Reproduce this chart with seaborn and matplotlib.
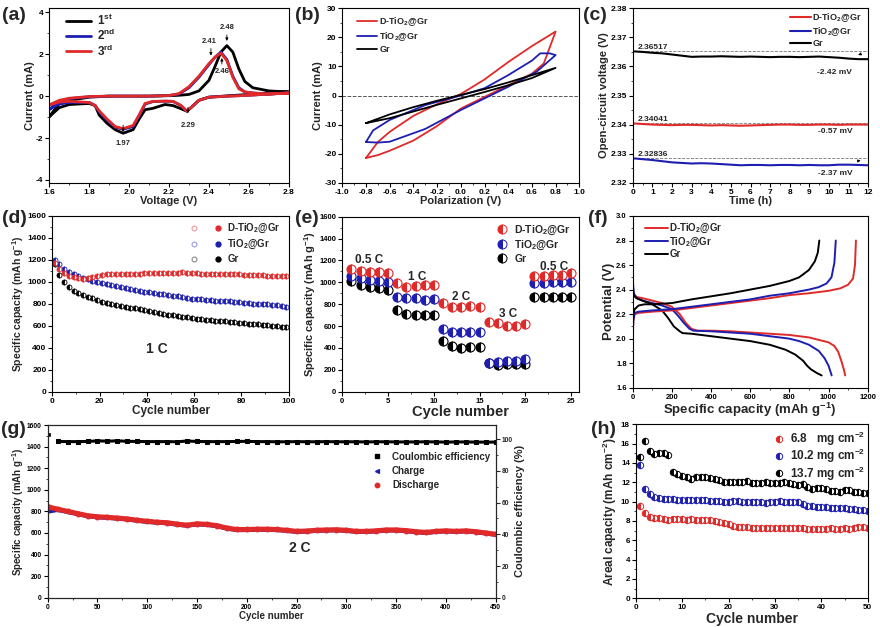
import matplotlib
matplotlib.use('Agg')
import matplotlib.pyplot as plt
import seaborn as sns
from matplotlib.ticker import MultipleLocator, AutoMinorLocator, FormatStrFormatter
from matplotlib.lines import Line2D
from matplotlib.legend_handler import HandlerTuple

RED = '#e02a2a'
BLUE = '#1e1eb0'
BLACK = '#000000'

# ---- (a) CV curves, 1st / 2nd / 3rd cycle
a_volt_anodic = [1.6, 1.65, 1.7, 1.8, 1.9, 2.0, 2.1, 2.2, 2.25, 2.3, 2.35, 2.4, 2.43, 2.46, 2.49,
                 2.52, 2.55, 2.58, 2.62, 2.7, 2.8]
a_volt_cathodic = [2.8, 2.7, 2.6, 2.5, 2.4, 2.35, 2.31, 2.29, 2.26, 2.22, 2.18, 2.12, 2.08, 2.05,
                   2.02, 1.97, 1.93, 1.89, 1.85, 1.83, 1.8, 1.7, 1.65, 1.6]
a_1st_anodic = [-0.98, -0.35, -0.2, -0.05, 0, 0, 0, 0.02, 0.04, 0.08, 0.25, 0.75, 1.4, 2.1, 2.41,
                2.1, 1.3, 0.7, 0.4, 0.25, 0.2]
a_2nd_anodic = [-0.63, -0.25, -0.12, -0.03, 0, 0, 0, 0.03, 0.1, 0.4, 0.9, 1.5, 1.85, 2.1, 1.75,
                0.95, 0.4, 0.2, 0.15, 0.1, 0.15]
a_3rd_anodic = [-0.42, -0.2, -0.1, -0.02, 0, 0, 0, 0.03, 0.12, 0.45, 0.95, 1.55, 1.85, 2.05, 1.7,
                0.9, 0.35, 0.2, 0.15, 0.1, 0.15]
a_1st_cathodic = [0.2, 0.15, 0.08, 0.02, -0.05, -0.2, -0.55, -0.72, -0.6, -0.45, -0.4, -0.58, -0.65,
                  -1.1, -1.6, -1.77, -1.6, -1.3, -0.9, -0.45, -0.35, -0.4, -0.55, -0.98]
a_2nd_cathodic = [0.15, 0.1, 0.04, 0.0, -0.05, -0.2, -0.55, -0.72, -0.45, -0.25, -0.24, -0.26, -0.38,
                  -0.95, -1.45, -1.58, -1.48, -1.15, -0.75, -0.45, -0.3, -0.3, -0.38, -0.63]
a_3rd_cathodic = [0.15, 0.1, 0.04, 0.0, -0.05, -0.2, -0.55, -0.72, -0.45, -0.25, -0.24, -0.25, -0.35,
                  -0.9, -1.4, -1.55, -1.45, -1.1, -0.7, -0.45, -0.3, -0.25, -0.28, -0.42]
a_peaks = ['2.48', '2.41', '2.46', '1.97', '2.29']

# ---- (b) symmetric cell CV loops
b_red_volt = [-0.8, -0.7, -0.6, -0.4, -0.2, 0.0, 0.2, 0.4, 0.6, 0.7, 0.8,
              0.7, 0.6, 0.4, 0.2, 0.0, -0.2, -0.4, -0.6, -0.7, -0.8]
b_red_cur = [-21.5, -20.5, -19.0, -15.5, -10.5, -4.5, -0.5, 3.5, 7.5, 11.0, 22.0,
             19.5, 17.0, 11.5, 5.5, 0.5, -3.0, -7.0, -12.5, -16.0, -21.5]
b_blue_volt = [-0.8, -0.7, -0.6, -0.3, 0.0, 0.2, 0.4, 0.64, 0.8,
               0.75, 0.67, 0.6, 0.4, 0.2, 0.0, -0.3, -0.6, -0.74, -0.8]
b_blue_cur = [-16.0, -16.2, -15.9, -11.5, -5.0, -1.0, 3.0, 8.2, 13.9,
              14.5, 14.5, 12.0, 7.0, 2.5, 0.0, -3.3, -8.4, -12.0, -16.0]
b_black_volt = [-0.8, -0.6, -0.4, -0.2, 0.0, 0.2, 0.4, 0.6, 0.8,
                0.6, 0.4, 0.2, 0.0, -0.2, -0.4, -0.6, -0.8]
b_black_cur = [-9.5, -7.8, -5.5, -3.2, -1.0, 1.2, 3.5, 6.0, 9.5,
               7.0, 4.5, 2.2, 0.2, -1.8, -4.0, -6.5, -9.5]

# ---- (c) open-circuit voltage
c_time = [0, 0.5, 1, 1.5, 2, 2.5, 3, 3.5, 4, 4.5, 5, 5.5, 6, 6.5, 7, 7.5, 8, 8.5, 9, 9.5, 10,
          10.5, 11, 11.5, 12]
c_gr = [2.3652, 2.3650, 2.3647, 2.3645, 2.3641, 2.3637, 2.3633, 2.3634, 2.3634, 2.3635, 2.3634,
        2.3633, 2.3634, 2.3633, 2.3632, 2.3633, 2.3633, 2.3632, 2.3633, 2.3634, 2.3632, 2.3630,
        2.3627, 2.3625, 2.3625]
c_dtio2 = [2.3404, 2.3402, 2.3400, 2.3399, 2.3398, 2.3399, 2.3399, 2.3398, 2.3397, 2.3398, 2.3397,
           2.3396, 2.3397, 2.3398, 2.3399, 2.3400, 2.3400, 2.3399, 2.3399, 2.3400, 2.3400, 2.3399,
           2.3400, 2.3400, 2.3400]
c_tio2 = [2.3284, 2.3281, 2.3278, 2.3274, 2.3270, 2.3268, 2.3266, 2.3267, 2.3266, 2.3264, 2.3262,
          2.3260, 2.3261, 2.3261, 2.3260, 2.3261, 2.3261, 2.3260, 2.3261, 2.3260, 2.3260, 2.3262,
          2.3262, 2.3261, 2.3260]
c_start = [2.36517, 2.34041, 2.32836]
c_start_labels = ['2.36517', '2.34041', '2.32836']
c_drop_labels = ['-2.42 mV', '-0.57 mV', '-2.37 mV']

# ---- (d) cycling at 1 C
d_cycle = list(range(1, 100, 2))
d_dtio2 = [1170, 1120, 1080, 1055, 1045, 1035, 1030, 1035, 1045, 1055, 1062, 1068, 1072, 1075, 1075,
           1070, 1068, 1072, 1075, 1078, 1078, 1080, 1080, 1082, 1082, 1083, 1085, 1088, 1082, 1080,
           1078, 1075, 1075, 1072, 1072, 1070, 1070, 1070, 1068, 1068, 1066, 1065, 1064, 1062, 1060,
           1058, 1056, 1055, 1053, 1050]
d_tio2 = [1200, 1160, 1120, 1090, 1070, 1050, 1035, 1025, 1010, 1000, 990, 980, 972, 962, 952,
          945, 935, 928, 918, 910, 905, 898, 892, 888, 880, 875, 868, 862, 855, 848,
          842, 840, 836, 834, 830, 828, 825, 822, 818, 815, 810, 806, 803, 800, 798,
          795, 790, 785, 780, 772]
d_gr = [1160, 1060, 1000, 950, 920, 900, 880, 865, 850, 835, 820, 808, 798, 790, 782,
        772, 765, 758, 750, 742, 735, 725, 718, 710, 702, 695, 690, 684, 678, 672,
        666, 662, 656, 652, 648, 644, 640, 636, 632, 628, 624, 620, 616, 612, 608,
        604, 600, 596, 592, 588]

# ---- (e) rate performance
e_cycle = list(range(1, 26))
e_dtio2 = [1120, 1100, 1090, 1090, 1085, 990, 960, 970, 975, 975, 810, 770, 775, 780, 770,
           640, 630, 600, 605, 615, 1060, 1060, 1065, 1070, 1085]
e_tio2 = [1060, 1040, 1020, 1010, 1005, 870, 860, 855, 840, 850, 570, 550, 550, 550, 550,
          265, 270, 280, 285, 295, 995, 995, 1000, 1000, 1000]
e_gr = [1010, 975, 960, 945, 930, 750, 710, 700, 700, 705, 460, 415, 400, 410, 405,
        260, 245, 250, 255, 255, 865, 865, 865, 865, 865]
e_rates = ['0.5 C', '1 C', '2 C', '3 C', '0.5 C']

# ---- (f) charge / discharge profiles
f_dtio2_dis_cap = [0, 5, 20, 50, 100, 150, 200, 240, 270, 300, 330, 400, 500, 600, 700, 800, 900,
                   950, 1000, 1030, 1050, 1065, 1078, 1085]
f_dtio2_dis_v = [2.42, 2.36, 2.34, 2.33, 2.31, 2.29, 2.26, 2.20, 2.13, 2.08, 2.065, 2.065, 2.06,
                 2.05, 2.04, 2.03, 2.01, 1.99, 1.97, 1.94, 1.89, 1.82, 1.75, 1.70]
f_tio2_dis_cap = [0, 5, 20, 50, 100, 150, 200, 230, 260, 290, 310, 400, 500, 600, 700, 800, 850,
                  900, 950, 980, 1000, 1016]
f_tio2_dis_v = [2.5, 2.37, 2.33, 2.31, 2.29, 2.27, 2.24, 2.19, 2.13, 2.08, 2.065, 2.06, 2.05, 2.04,
                2.02, 2.00, 1.98, 1.95, 1.90, 1.84, 1.78, 1.70]
f_gr_dis_cap = [0, 5, 20, 50, 100, 150, 180, 210, 240, 255, 300, 400, 500, 600, 700, 780, 830, 870,
                890, 910, 940, 965]
f_gr_dis_v = [2.45, 2.35, 2.33, 2.31, 2.28, 2.23, 2.17, 2.10, 2.06, 2.045, 2.04, 2.02, 2.00, 1.98,
              1.95, 1.91, 1.87, 1.82, 1.78, 1.75, 1.72, 1.70]
f_dtio2_ch_cap = [0, 3, 10, 30, 100, 200, 300, 400, 500, 600, 700, 800, 900, 1000, 1060, 1100,
                  1125, 1135, 1140]
f_dtio2_ch_v = [1.95, 2.15, 2.20, 2.21, 2.22, 2.23, 2.25, 2.27, 2.29, 2.31, 2.33, 2.355, 2.37, 2.39,
                2.41, 2.44, 2.49, 2.60, 2.80]
f_tio2_ch_cap = [0, 3, 10, 30, 100, 200, 300, 400, 500, 600, 700, 800, 900, 950, 990, 1015, 1030,
                 1037]
f_tio2_ch_v = [1.98, 2.15, 2.21, 2.22, 2.23, 2.24, 2.26, 2.28, 2.30, 2.32, 2.35, 2.37, 2.40, 2.42,
               2.45, 2.50, 2.62, 2.80]
f_gr_ch_cap = [0, 3, 10, 30, 60, 100, 200, 300, 400, 500, 600, 700, 800, 850, 900, 930, 945, 953]
f_gr_ch_v = [2.0, 2.2, 2.24, 2.27, 2.28, 2.28, 2.29, 2.32, 2.345, 2.37, 2.40, 2.43, 2.47, 2.50,
             2.56, 2.63, 2.70, 2.80]

# ---- (g) long cycling at 2 C
g_cycle = [1] + list(range(10, 451, 10))
g_discharge = [840, 820, 800, 780, 760, 750, 745, 738, 730, 718, 708, 700, 695, 682, 672, 685, 680,
               668, 645, 632, 632, 635, 635, 632, 625, 615, 618, 625, 628, 630, 625, 615, 615, 620,
               628, 628, 622, 612, 605, 615, 620, 615, 620, 612, 600, 588]
g_charge = [800, 815, 795, 776, 756, 746, 741, 734, 726, 714, 704, 696, 691, 678, 668, 681, 676,
            664, 641, 628, 628, 631, 631, 628, 621, 611, 614, 621, 624, 626, 621, 611, 611, 616,
            624, 624, 618, 608, 601, 611, 616, 611, 616, 608, 596, 584]
g_ce = [102.7, 98.6, 98.5, 98.5, 98.6, 99.0, 98.8, 99.0, 98.7, 98.6, 98.5, 98.5, 98.5, 98.4, 98.9,
        98.6, 98.5, 98.5, 98.5, 98.6, 98.7, 98.5, 98.5, 98.4, 98.4, 98.5, 98.4, 98.4, 98.5, 98.4,
        98.4, 98.4, 98.3, 98.4, 98.4, 98.3, 98.3, 98.3, 98.4, 98.3, 98.2, 98.3, 98.3, 98.2, 98.2,
        98.2]

# ---- (h) areal capacity at high loading
h_cycle = list(range(1, 51))
h_68 = [9.6, 8.8, 8.4, 8.3, 8.3, 8.2, 8.1, 8.2, 8.2, 8.2, 8.1, 8.2, 8.1, 8.1, 8.1, 8.1, 8.0, 7.9,
        7.8, 7.7, 7.5, 7.4, 7.4, 7.4, 7.3, 7.3, 7.3, 7.3, 7.3, 7.3, 7.3, 7.3, 7.3, 7.3, 7.3, 7.3,
        7.2, 7.2, 7.2, 7.2, 7.2, 7.3, 7.2, 7.2, 7.3, 7.2, 7.3, 7.4, 7.4, 7.3]
h_102 = [13.8, 11.3, 10.8, 10.5, 10.4, 10.3, 10.3, 10.3, 10.2, 10.2, 10.2, 10.2, 10.2, 10.2, 10.2,
         10.1, 10.1, 10.1, 10.0, 10.0, 10.1, 10.1, 10.0, 10.0, 10.0, 10.0, 10.0, 9.9, 10.0, 10.0,
         10.1, 10.0, 10.0, 10.0, 10.0, 9.8, 9.6, 9.5, 9.4, 9.4, 9.4, 9.3, 9.3, 9.3, 9.3, 9.2, 9.2,
         9.1, 9.1, 9.0]
h_137 = [14.6, 16.3, 15.2, 14.9, 15.0, 15.0, 14.8, 13.1, 12.9, 12.7, 12.5, 12.3, 12.5, 12.5, 12.5,
         12.4, 12.3, 12.2, 12.0, 12.0, 12.0, 12.0, 12.0, 12.1, 11.9, 11.9, 11.9, 12.0, 11.9, 11.9,
         11.9, 12.0, 11.9, 11.8, 11.7, 11.8, 11.5, 11.3, 11.4, 11.4, 11.3, 11.1, 11.1, 11.0, 11.2,
         11.2, 11.0, 11.0, 10.9, 10.9]
h_labels = ['6.8   mg cm$^{-2}$', '10.2 mg cm$^{-2}$', '13.7 mg cm$^{-2}$']

LAB_D = 'D-TiO$_2$@Gr'
LAB_T = 'TiO$_2$@Gr'
LAB_G = 'Gr'

sns.set_style('ticks')
plt.rcParams['font.family'] = ['Liberation Sans', 'DejaVu Sans']
plt.rcParams['font.weight'] = 'bold'
plt.rcParams['axes.labelweight'] = 'bold'
plt.rcParams['mathtext.fontset'] = 'custom'
plt.rcParams['mathtext.rm'] = 'Liberation Sans:bold'
plt.rcParams['mathtext.it'] = 'Liberation Sans:bold:italic'
plt.rcParams['mathtext.bf'] = 'Liberation Sans:bold'
plt.rcParams['mathtext.default'] = 'rm'
plt.rcParams['axes.unicode_minus'] = False

W, H = 880, 627
fig = plt.figure(figsize=(8.8, 6.27), dpi=100)


def rect(l, r, t, b):
    return [l / W, 1 - b / H, (r - l) / W, (b - t) / H]


def style(ax, xlim, ylim, xstep, ystep, xlabel, ylabel, xfs, yfs, tfs=6):
    ax.set_xlim(*xlim)
    ax.set_ylim(*ylim)
    ax.xaxis.set_major_locator(MultipleLocator(xstep))
    ax.yaxis.set_major_locator(MultipleLocator(ystep))
    ax.xaxis.set_minor_locator(AutoMinorLocator(2))
    ax.yaxis.set_minor_locator(AutoMinorLocator(2))
    ax.set_xlabel(xlabel, fontsize=xfs, labelpad=0.5)
    ax.set_ylabel(ylabel, fontsize=yfs, labelpad=1)
    for s in ax.spines.values():
        s.set_linewidth(0.8)
        s.set_color('black')
    ax.tick_params(which='major', direction='out', length=3, width=0.8, labelsize=tfs, pad=1.2,
                   top=False, right=False, colors='black')
    ax.tick_params(which='minor', direction='out', length=1.6, width=0.6, top=False, right=False)


def half_marker(col, ms):
    return Line2D([], [], ls='', marker='o', ms=ms, fillstyle='left', markerfacecolor=col,
                  markerfacecoloralt='white', markeredgecolor=col, markeredgewidth=0.7)


def panel_label(x, y, s):
    fig.text(x / W, 1 - y / H, s, fontsize=14, fontweight='bold', va='center', ha='left')


arr = dict(arrowstyle='-|>', color='black', lw=0.6, mutation_scale=4)

# ================= (a)
ax = fig.add_axes(rect(49.3, 288.7, 8.3, 182.7))
for an, ca, col, lab in [(a_1st_anodic, a_1st_cathodic, BLACK, '1$^{st}$'),
                         (a_2nd_anodic, a_2nd_cathodic, BLUE, '2$^{nd}$'),
                         (a_3rd_anodic, a_3rd_cathodic, RED, '3$^{rd}$')]:
    sns.lineplot(x=a_volt_anodic + a_volt_cathodic, y=an + ca, sort=False, estimator=None,
                 color=col, lw=2, ax=ax, label=lab)
style(ax, (1.6, 2.8), (-4.13, 4.19), 0.2, 2, 'Voltage (V)', 'Current (mA)', 8, 8)
ax.legend(loc='upper left', bbox_to_anchor=(0.03, 1.03), frameon=False, fontsize=8.5,
          handlelength=2.1, handletextpad=0.5, labelspacing=0.02, borderpad=0.3)
for (xt, yt, xa, y0, y1), s in zip([(2.49, 3.28, 2.49, 3.05, 2.5), (2.40, 2.6, 2.41, 2.4, 1.8),
                                    (2.465, 1.17, 2.465, 1.4, 1.95), (1.97, -2.25, 1.97, -1.25, -1.85),
                                    (2.295, -1.42, 2.295, -0.4, -0.95)], a_peaks):
    ax.annotate('', xy=(xa, y1), xytext=(xa, y0), arrowprops=arr)
    ax.text(xt, yt, s, ha='center', va='center', fontsize=5.5)
panel_label(2, 15, '(a)')

# ================= (b)
ax = fig.add_axes(rect(342.3, 579.3, 8.3, 182.7))
ax.axhline(0, color='#555555', ls='--', lw=0.7)
sns.lineplot(x=b_red_volt, y=b_red_cur, sort=False, estimator=None, color=RED, lw=1.3, ax=ax,
             label=LAB_D)
sns.lineplot(x=b_blue_volt, y=b_blue_cur, sort=False, estimator=None, color=BLUE, lw=1.3, ax=ax,
             label=LAB_T)
sns.lineplot(x=b_black_volt, y=b_black_cur, sort=False, estimator=None, color=BLACK, lw=1.3, ax=ax,
             label=LAB_G)
style(ax, (-1.0, 1.0), (-30, 30), 0.2, 10, 'Polarization (V)', 'Current (mA)', 8, 8)
ax.xaxis.set_major_formatter(FormatStrFormatter('%.1f'))
ax.legend(loc='upper left', bbox_to_anchor=(0.03, 1.0), frameon=False, fontsize=6.5,
          handlelength=2.3, handletextpad=0.2, labelspacing=0.2, borderpad=0.3)
panel_label(295, 15, '(b)')

# ================= (c)
ax = fig.add_axes(rect(632.7, 868.3, 8.3, 182.7))
for v in c_start:
    ax.axhline(v, color='#777777', ls='--', lw=0.6)
sns.lineplot(x=c_time, y=c_dtio2, color=RED, lw=1.5, ax=ax, label=LAB_D)
sns.lineplot(x=c_time, y=c_tio2, color=BLUE, lw=1.5, ax=ax, label=LAB_T)
sns.lineplot(x=c_time, y=c_gr, color=BLACK, lw=1.5, ax=ax, label=LAB_G)
style(ax, (0, 12), (2.32, 2.38), 1, 0.01, 'Time (h)', 'Open-circuit voltage (V)', 8, 8)
ax.yaxis.set_major_formatter(FormatStrFormatter('%.2f'))
ax.legend(loc='upper right', bbox_to_anchor=(1.0, 1.02), frameon=False, fontsize=6.5,
          handlelength=2.3, handletextpad=0.2, labelspacing=0.1, borderpad=0.2)
for v, sl, dl, ylab in zip(c_start, c_start_labels, c_drop_labels, [2.3578, 2.3375, 2.3232]):
    ax.text(0.25, v + 0.0012, sl, fontsize=6, va='center', ha='left')
    ax.text(10.3, ylab, dl, fontsize=6, va='center', ha='center')
ax.annotate('', xy=(11.35, 2.3636), xytext=(11.75, 2.3646), arrowprops=arr)
ax.annotate('', xy=(11.75, 2.3278), xytext=(11.4, 2.3274), arrowprops=arr)
panel_label(583, 15, '(c)')

# ================= (d)
ax = fig.add_axes(rect(52.3, 288.7, 216, 391.7))
for vals, col in [(d_gr, BLACK), (d_tio2, BLUE), (d_dtio2, RED)]:
    sns.lineplot(x=d_cycle, y=vals, ax=ax, ls='', marker='o', ms=3.6, fillstyle='left',
                 color=col, markerfacecoloralt='white', markeredgecolor=col,
                 markeredgewidth=0.6)
style(ax, (0, 100), (0, 1600), 20, 200, 'Cycle number', 'Specific capacity (mAh g$^{-1}$)', 8.5, 7.5)
ax.text(44, 390, '1 C', fontsize=10, ha='center', va='center')
hd = []
for col, light in [(RED, '#f09a9a'), (BLUE, '#9a9ae8'), (BLACK, '#888888')]:
    hd.append((Line2D([], [], ls='', marker='o', ms=3.5, mfc='none', mec=light, mew=0.8),
               Line2D([], [], ls='', marker='o', ms=3.5, mfc=col, mec=col)))
ax.legend(hd, [LAB_D, LAB_T, LAB_G], handler_map={tuple: HandlerTuple(ndivide=None, pad=1.6)},
          loc='upper right', bbox_to_anchor=(1.0, 1.01), frameon=False, fontsize=7,
          handlelength=3.2, handletextpad=0.6, labelspacing=0.3, borderpad=0.3)
panel_label(2, 219, '(d)')

# ================= (e)
ax = fig.add_axes(rect(342.3, 579.3, 216.7, 391.7))
for vals, col in [(e_gr, BLACK), (e_tio2, BLUE), (e_dtio2, RED)]:
    sns.lineplot(x=e_cycle, y=vals, ax=ax, ls='', marker='o', ms=6.5, fillstyle='left',
                 color=col, markerfacecoloralt='white', markeredgecolor=col,
                 markeredgewidth=0.8)
style(ax, (0, 25.9), (0, 1600), 5, 200, 'Cycle number', 'Specific capacity (mAh g$^{-1}$)', 10.5, 8,
      tfs=5.5)
for (xt, yt), s in zip([(2.9, 1200), (8.2, 1050), (13.0, 868), (18.1, 707), (23.1, 1143)], e_rates):
    ax.text(xt, yt, s, fontsize=8.5, ha='center', va='center')
ax.legend([half_marker(RED, 6.5), half_marker(BLUE, 6.5), half_marker(BLACK, 6.5)],
          [LAB_D, LAB_T, LAB_G], loc='upper right', bbox_to_anchor=(1.0, 1.01), frameon=False,
          fontsize=7.5, handlelength=1.2, handletextpad=0.6, labelspacing=0.2, borderpad=0.3)
panel_label(295, 219, '(e)')

# ================= (f)
ax = fig.add_axes(rect(632.7, 867.7, 216, 387.7))
for cap, v, col, lab in [(f_dtio2_dis_cap, f_dtio2_dis_v, RED, LAB_D),
                         (f_tio2_dis_cap, f_tio2_dis_v, BLUE, LAB_T),
                         (f_gr_dis_cap, f_gr_dis_v, BLACK, LAB_G),
                         (f_dtio2_ch_cap, f_dtio2_ch_v, RED, None),
                         (f_tio2_ch_cap, f_tio2_ch_v, BLUE, None),
                         (f_gr_ch_cap, f_gr_ch_v, BLACK, None)]:
    sns.lineplot(x=cap, y=v, sort=False, estimator=None, color=col, lw=1.4, ax=ax, label=lab)
style(ax, (0, 1200), (1.6, 3.0), 200, 0.2, 'Specific capacity (mAh g$^{-1}$)', 'Potential (V)',
      9.5, 9.5, tfs=5.5)
ax.yaxis.set_major_formatter(FormatStrFormatter('%.1f'))
ax.legend(loc='upper left', bbox_to_anchor=(0.02, 1.01), frameon=False, fontsize=7,
          handlelength=2.3, handletextpad=0.2, labelspacing=0.05, borderpad=0.3)
panel_label(588, 219, '(f)')

# ================= (g)
ax = fig.add_axes(rect(47.7, 495.7, 425, 597.7))
sns.lineplot(x=g_cycle, y=g_charge, ax=ax, color=BLUE, lw=3.2)
sns.lineplot(x=g_cycle, y=g_discharge, ax=ax, color=RED, lw=3.6, marker='o', ms=3.5,
             markeredgecolor=RED)
style(ax, (0, 450), (0, 1600), 50, 200, 'Cycle number', 'Specific capacity (mAh g$^{-1}$)', 7, 7,
      tfs=4.8)
ax.text(253, 460, '2 C', fontsize=10, ha='center', va='center')
ax2 = ax.twinx()
sns.lineplot(x=g_cycle[1:], y=g_ce[1:], ax=ax2, color=BLACK, lw=2.2, marker='s', ms=2.2,
             markeredgecolor=BLACK)
sns.scatterplot(x=g_cycle[:1], y=g_ce[:1], ax=ax2, color=BLACK, s=8, marker='s')
ax2.set_ylim(0, 109)
ax2.yaxis.set_major_locator(MultipleLocator(20))
ax2.yaxis.set_minor_locator(AutoMinorLocator(2))
ax2.set_ylabel('Coulombic efficiency (%)', fontsize=8, labelpad=2)
ax2.tick_params(which='major', direction='out', length=3, width=0.8, labelsize=4.8, pad=1.2)
ax2.tick_params(which='minor', direction='out', length=1.6, width=0.6)
for s in ax2.spines.values():
    s.set_linewidth(0.8)
hg = [Line2D([], [], ls='', marker='s', ms=2.8, color=BLACK),
      Line2D([], [], ls='', marker='<', ms=2.8, color=BLUE),
      Line2D([], [], ls='', marker='o', ms=3.2, color=RED)]
ax2.legend(hg, ['Coulombic efficiency', 'Charge', 'Discharge'], loc='upper left',
           bbox_to_anchor=(0.71, 0.885), frameon=False, fontsize=7, handlelength=1.0,
           handletextpad=1.0, labelspacing=0.45, borderpad=0.2)
panel_label(1, 429, '(g)')

# ================= (h)
ax = fig.add_axes(rect(635.7, 867.7, 424.3, 598.3))
for vals, col in [(h_137, BLACK), (h_102, BLUE), (h_68, RED)]:
    sns.lineplot(x=h_cycle, y=vals, ax=ax, ls='', marker='o', ms=4.6, fillstyle='left',
                 color=col, markerfacecoloralt='white', markeredgecolor=col,
                 markeredgewidth=0.7)
style(ax, (0, 50), (0, 18), 10, 2, 'Cycle number', 'Areal capacity (mAh cm$^{-2}$)', 10, 8.5,
      tfs=5.8)
ax.legend([half_marker(RED, 4.6), half_marker(BLUE, 4.6), half_marker(BLACK, 4.6)],
          h_labels, loc='upper right', bbox_to_anchor=(1.03, 1.02), frameon=False, fontsize=8.5,
          handlelength=1.0, handletextpad=0.4, labelspacing=-0.1, borderpad=0.3)
panel_label(591, 429, '(h)')

fig.savefig('out.png', dpi=100)
